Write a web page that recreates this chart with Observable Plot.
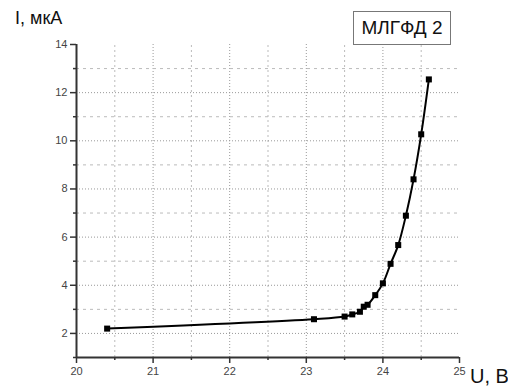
<!DOCTYPE html>
<html>
<head>
<meta charset="utf-8">
<script src="https://cdn.jsdelivr.net/npm/d3@7"></script>
<script src="https://cdn.jsdelivr.net/npm/@observablehq/plot@0.6"></script>
<style>
  html, body { margin: 0; padding: 0; background: #fff; }
  #wrap { position: relative; width: 508px; height: 387px; font-family: "Liberation Sans", Arial, sans-serif; }
  #wrap svg { position: absolute; left: 0; top: 0; }
  .lbl { position: absolute; line-height: 1; white-space: nowrap; color: #111; }
  #legend { position: absolute; left: 353px; top: 11px; width: 96px; height: 32px; border: 1px solid #777;
            background: #fff; display: flex; align-items: center; justify-content: center; font-size: 19px; color: #111; }
</style>
</head>
<body>
<div id="wrap"></div>
<script>
// Data
const voltage = [20.4, 23.1, 23.5, 23.6, 23.7, 23.75, 23.8, 23.9, 24.0, 24.1, 24.2, 24.3, 24.4, 24.5, 24.6];
const current = [2.2, 2.59, 2.70, 2.79, 2.90, 3.11, 3.19, 3.59, 4.08, 4.89, 5.67, 6.89, 8.40, 10.27, 12.55];
const xMajorTicks = [20, 21, 22, 23, 24, 25];
const xMinorTicks = [20.5, 21.5, 22.5, 23.5, 24.5];
const yMajorTicks = [2, 4, 6, 8, 10, 12, 14];
const yMinorTicks = [1, 3, 5, 7, 9, 11, 13];
const xGridMajor = [21, 22, 23, 24];
const yGridMajor = [2, 4, 6, 8, 10, 12];
const yGridMinor = [3, 5, 7, 9, 11, 13];
const seriesName = "МЛГФД 2";
const xLabel = "U, B";
const yLabel = "I, мкА";

const data = voltage.map((u, i) => ({u, i: current[i]}));

const chart = Plot.plot({
  width: 508,
  height: 387,
  marginLeft: 76,
  marginRight: 49,
  marginTop: 44,
  marginBottom: 30,
  style: {fontFamily: "'Liberation Sans', Arial, sans-serif", fontSize: "11px", color: "#444", background: "transparent"},
  x: {domain: [20, 25]},
  y: {domain: [1, 14]},
  marks: [
    // grid
    Plot.ruleX(xMinorTicks, {y1: 1, y2: 14, stroke: "#bbb", strokeOpacity: 1, strokeWidth: 1, strokeDasharray: "2,3"}),
    Plot.ruleX(xGridMajor, {y1: 1, y2: 14, stroke: "#999", strokeOpacity: 1, strokeWidth: 1, strokeDasharray: "1,2"}),
    Plot.ruleY(yGridMinor, {x1: 20, x2: 25, stroke: "#bbb", strokeOpacity: 1, strokeWidth: 1, strokeDasharray: "3,4"}),
    Plot.ruleY(yGridMajor, {x1: 20, x2: 25, stroke: "#999", strokeOpacity: 1, strokeWidth: 1, strokeDasharray: "1,2"}),
    // axes
    Plot.axisX({ticks: xMajorTicks, tickFormat: d3.format("d"), tickSize: 6, tickPadding: 4, label: null, fontSize: 11, stroke: "#333", strokeWidth: 1.5}),
    Plot.axisX({ticks: xMinorTicks, tickSize: 3, text: null, label: null, stroke: "#333", strokeWidth: 1.5}),
    Plot.axisY({ticks: yMajorTicks, tickFormat: d3.format("d"), tickSize: 6, tickPadding: 3, label: null, fontSize: 11, stroke: "#333", strokeWidth: 1.5}),
    Plot.axisY({ticks: yMinorTicks, tickSize: 3, text: null, label: null, stroke: "#333", strokeWidth: 1.5}),
    Plot.ruleY([1], {stroke: "#333", strokeWidth: 2}),
    Plot.ruleX([20], {stroke: "#333", strokeWidth: 2}),
    // data
    Plot.line(data, {x: "u", y: "i", stroke: "#000", strokeWidth: 2, curve: "catmull-rom"}),
    Plot.dot(data, {x: "u", y: "i", symbol: "square", r: 3.4, fill: "#000", stroke: "none"})
  ]
});

const wrap = document.getElementById("wrap");
wrap.appendChild(chart);

const yl = document.createElement("div");
yl.className = "lbl";
yl.style.cssText = "left:15px; top:9px; font-size:18px;";
yl.textContent = yLabel;
wrap.appendChild(yl);

const xl = document.createElement("div");
xl.className = "lbl";
xl.style.cssText = "left:470px; top:366px; font-size:20px;";
xl.textContent = xLabel;
wrap.appendChild(xl);

const lg = document.createElement("div");
lg.id = "legend";
lg.textContent = seriesName;
wrap.appendChild(lg);
</script>
</body>
</html>
